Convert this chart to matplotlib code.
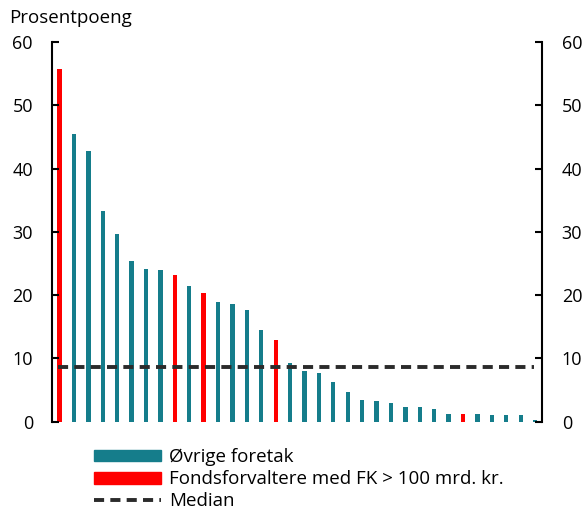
import matplotlib.pyplot as plt
from matplotlib.patches import Patch
from matplotlib.lines import Line2D

plt.rcParams['font.family'] = ['Open Sans', 'DejaVu Sans']

# values, sorted descending
values = [55.7, 45.4, 42.8, 33.3, 29.6, 25.4, 24.1, 24.0, 23.2, 21.4, 20.3,
          18.9, 18.6, 17.6, 14.5, 12.9, 9.3, 8.0, 7.7, 6.2, 4.7, 3.5, 3.2,
          2.95, 2.4, 2.3, 1.95, 1.25, 1.25, 1.2, 1.1, 1.1, 1.0, 0.2]
# which bars are the large fund managers
large_fund = [0, 8, 10, 15, 28]
median = 8.7
yticks = [0, 10, 20, 30, 40, 50, 60]

teal = "#157d8b"
red = "#ff0000"
colors = [red if i in large_fund else teal for i in range(len(values))]

fig = plt.figure(figsize=(5.86, 5.11), dpi=100)
ax = fig.add_axes([0.0893, 0.1747, 0.8361, 0.7433])

x = list(range(len(values)))
ax.bar(x, values, width=0.3, color=colors)
ax.plot([x[0] - 0.1, x[-1] - 0.1], [median, median], color="#2b2b2b",
        linewidth=2.8, dashes=(2.6, 1.6), solid_capstyle='butt')

ax.set_xlim(-0.5, len(values) - 0.5)
ax.set_ylim(0, 60)
ax.set_yticks(yticks)
ax.set_xticks([])
ax.spines['top'].set_visible(False)
ax.spines['bottom'].set_visible(False)
ax.spines['left'].set_linewidth(1.5)
ax.spines['right'].set_linewidth(1.5)
ax.tick_params(axis='y', which='both', direction='in', length=5, width=1.5,
               labelsize=13, left=True, right=True, labelleft=True,
               labelright=True, pad=14)

fig.text(0.015, 0.965, "Prosentpoeng", fontsize=13.5, va='center', ha='left')

handles = [Patch(color=teal), Patch(color=red),
           Line2D([0], [0], color="#2b2b2b", linewidth=2.8, dashes=(2.6, 1.6))]
labels = ["Øvrige foretak", "Fondsforvaltere med FK > 100 mrd. kr.", "Median"]
fig.legend(handles, labels, loc='upper left', bbox_to_anchor=(0.16, 0.123),
           frameon=False, fontsize=13.5, handlelength=3.6, handleheight=0.6,
           labelspacing=0.22, handletextpad=0.42, borderpad=0, borderaxespad=0)

fig.savefig("out.png", dpi=100)
